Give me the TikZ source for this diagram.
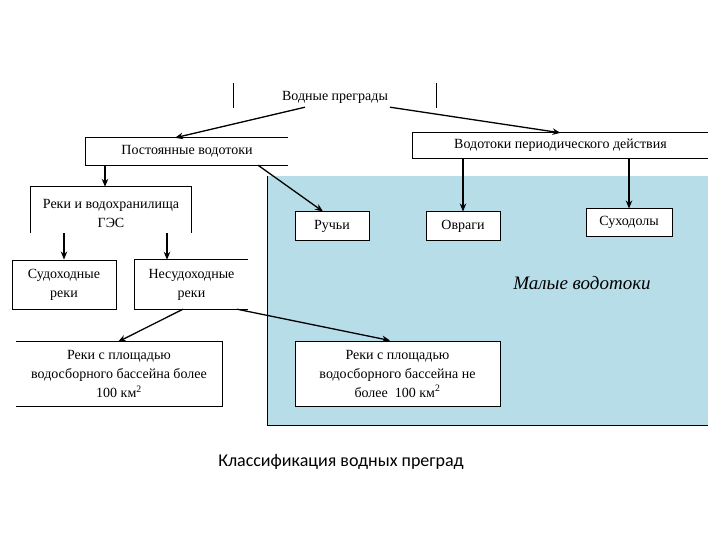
\documentclass[tikz,border=0pt]{standalone}
\usepackage{fontspec}
\setmainfont{Liberation Serif}
\newfontfamily\capfont{Carlito}
\usetikzlibrary{arrows.meta}
\definecolor{waterblue}{RGB}{183,221,232}
\tikzset{
  lbl/.style={inner sep=0pt, align=center, font=\fontsize{14}{19}\selectfont},
  whitebox/.style={lbl, draw, fill=white, line width=1pt},
  edge/.style={line width=1pt},
  arr/.style={line width=1.3pt, -{Stealth[length=8pt,width=6.5pt]}}
}
\begin{document}
\begin{tikzpicture}[x=1pt,y=-1pt]
\useasboundingbox (0,0) rectangle (720,540);
% blue area
\fill[waterblue] (267,176) rectangle (708,425);
\draw[edge] (267,176) -- (267,425) -- (708,425);
% top label
\node[lbl, minimum height=20pt] (top) at (335,97) {Водные преграды};
\draw[edge] (233,83) -- (233,108);
\draw[edge] (436,83) -- (436,108);
% level 1
\node[lbl, minimum width=202pt, minimum height=27pt] (pv) at (187,151.5) {Постоянные водотоки};
\draw[edge] (pv.north east) -- (pv.north west) -- (pv.south west) -- (pv.south east);
\node[lbl, minimum width=295pt, minimum height=25pt] (vp) at (560.5,145.5) {Водотоки периодического действия};
\draw[edge] (vp.north east) -- (vp.north west) -- (vp.south west) -- (vp.south east);
% level 2
\node[lbl, minimum width=160pt, minimum height=40pt] (rv) at (111,213) {Реки и водохранилища\\ГЭС};
\draw[edge] (rv.south west) -- ([yshift=6pt]rv.north west) -- ([yshift=6pt]rv.north east) -- (rv.south east);
\node[whitebox, minimum width=74pt, minimum height=28pt] (ruch) at (332,226) {Ручьи};
\node[whitebox, minimum width=74pt, minimum height=28pt] (ovr) at (463,226) {Овраги};
\node[whitebox, minimum width=86pt, minimum height=27pt] (suh) at (629,222.5) {Суходолы};
% level 3
\node[lbl, draw, line width=1pt, minimum width=104pt, minimum height=49pt] (sud) at (64,284.5) {Судоходные\\реки};
\node[lbl, minimum width=113pt, minimum height=49pt] (nesud) at (191.5,284.5) {Несудоходные\\реки};
\draw[edge] (nesud.north east) -- (nesud.north west) -- (nesud.south west) -- (nesud.south east);
\node[font=\fontsize{19}{22}\selectfont\itshape, inner sep=0pt] (malye) at (582,283) {Малые водотоки};
% level 4
\node[lbl, minimum width=206pt, minimum height=64pt] (big1) at (119,374) {Реки с площадью\\водосборного бассейна более\\100 км\textsuperscript{2}};
\draw[edge] (big1.north west) -- (big1.north east) -- (big1.south east) -- (big1.south west);
\node[whitebox, minimum width=205pt, minimum height=65pt] (big2) at (397.5,373.5) {Реки с площадью\\водосборного бассейна не\\более\ \ 100 км\textsuperscript{2}};
% caption
\node[font=\capfont\fontsize{18}{22}\selectfont, inner sep=0pt] (cap) at (341,462) {Классификация водных преград};
% connectors
\draw[arr] ([xshift=-30pt]top.south) -- ([xshift=-12pt]pv.north);
\draw[arr] ([xshift=55pt]top.south) -- (vp.north);
\draw[arr] ([xshift=-82pt]pv.south) -- ([xshift=-82pt,yshift=6pt]pv.south |- rv.north);
\draw[arr] ([xshift=71pt]pv.south) -- ([xshift=-9pt]ruch.north);
\draw[arr] (ovr.north |- vp.south) -- (ovr.north);
\draw[arr] (suh.north |- vp.south) -- (suh.north);
\draw[arr] (sud.north |- rv.south) -- (sud.north);
\draw[arr] ([xshift=-24.5pt]nesud.north |- rv.south) -- ([xshift=-24.5pt]nesud.north);
\draw[arr] ([xshift=-8.5pt]nesud.south) -- ([xshift=-1pt]big1.north);
\draw[arr] ([xshift=45.5pt]nesud.south) -- ([xshift=-7.5pt]big2.north);
\end{tikzpicture}
\end{document}
